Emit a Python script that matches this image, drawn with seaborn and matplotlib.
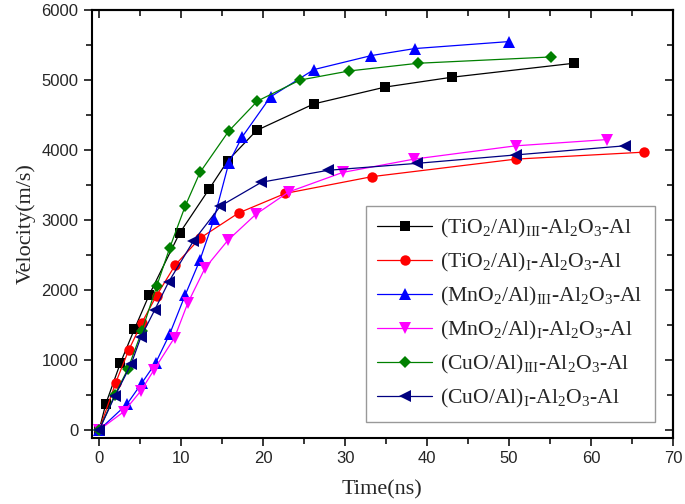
import numpy as np
import pandas as pd
import matplotlib
matplotlib.use('Agg')
import matplotlib.pyplot as plt
import seaborn as sns
from matplotlib.ticker import MultipleLocator

# values (time in ns, velocity in m/s)
tio2_iii_t = [0, 0.8, 2.6, 4.3, 6.1, 9.8, 13.4, 15.7, 19.2, 26.2, 34.9, 43.0, 57.9]
tio2_iii_v = [0, 370, 960, 1440, 1930, 2810, 3440, 3850, 4280, 4660, 4900, 5040, 5240]

tio2_i_t = [0, 2.0, 3.6, 5.2, 7.0, 9.3, 12.3, 17.0, 22.7, 33.3, 50.8, 66.5]
tio2_i_v = [0, 670, 1140, 1530, 1920, 2360, 2740, 3100, 3380, 3620, 3870, 3970]

mno2_iii_t = [0, 3.4, 5.2, 6.9, 8.6, 10.5, 12.3, 14.0, 15.8, 17.4, 20.9, 26.2, 33.2, 38.5, 50.0]
mno2_iii_v = [0, 370, 670, 960, 1370, 1930, 2430, 3010, 3810, 4180, 4760, 5150, 5350, 5450, 5550]

mno2_i_t = [0, 3.0, 5.1, 6.7, 9.2, 10.8, 12.9, 15.7, 19.1, 23.1, 29.7, 38.4, 50.8, 62.0]
mno2_i_v = [0, 260, 560, 860, 1320, 1810, 2310, 2710, 3080, 3400, 3680, 3870, 4060, 4150]

cuo_iii_t = [0, 1.9, 3.5, 5.2, 7.0, 8.6, 10.5, 12.3, 15.8, 19.3, 24.5, 30.5, 38.9, 55.1]
cuo_iii_v = [0, 500, 870, 1410, 2050, 2600, 3200, 3680, 4270, 4700, 5000, 5130, 5240, 5330]

cuo_i_t = [0, 1.9, 3.9, 5.1, 6.8, 8.5, 11.5, 14.8, 19.8, 27.9, 38.8, 50.8, 64.1]
cuo_i_v = [0, 480, 940, 1330, 1720, 2120, 2700, 3200, 3540, 3710, 3810, 3930, 4060]

labels = [r'(TiO$_2$/Al)$_{\mathrm{III}}$-Al$_2$O$_3$-Al',
          r'(TiO$_2$/Al)$_{\mathrm{I}}$-Al$_2$O$_3$-Al',
          r'(MnO$_2$/Al)$_{\mathrm{III}}$-Al$_2$O$_3$-Al',
          r'(MnO$_2$/Al)$_{\mathrm{I}}$-Al$_2$O$_3$-Al',
          r'(CuO/Al)$_{\mathrm{III}}$-Al$_2$O$_3$-Al',
          r'(CuO/Al)$_{\mathrm{I}}$-Al$_2$O$_3$-Al']

series = [(tio2_iii_t, tio2_iii_v), (tio2_i_t, tio2_i_v),
          (mno2_iii_t, mno2_iii_v), (mno2_i_t, mno2_i_v),
          (cuo_iii_t, cuo_iii_v), (cuo_i_t, cuo_i_v)]
colors = ['black', '#ff0000', '#0000ff', '#ff00ff', '#008000', '#000080']
markers = ['s', 'o', '^', 'v', 'D', '<']
msizes = [6.5, 7.5, 8, 8, 6.5, 8]

sns.set_style('ticks')
plt.rcParams['mathtext.fontset'] = 'custom'
plt.rcParams['mathtext.rm'] = 'Liberation Serif'
plt.rcParams['mathtext.it'] = 'Liberation Serif:italic'
plt.rcParams['font.family'] = ['Liberation Sans', 'DejaVu Sans']

fig = plt.figure(figsize=(6.85, 5.04), dpi=100)
ax = fig.add_axes([0.134, 0.131, 0.8485, 0.849])

for (t, v), lab, c, m, ms in zip(series, labels, colors, markers, msizes):
    sns.lineplot(x=t, y=v, ax=ax, color=c, marker=m, markersize=ms,
                 markeredgewidth=0, linewidth=0.9, label=lab, sort=False)

ax.set_xlim(-0.9, 70)
ax.set_ylim(-115, 6000)
ax.xaxis.set_major_locator(MultipleLocator(10))
ax.xaxis.set_minor_locator(MultipleLocator(5))
ax.yaxis.set_major_locator(MultipleLocator(1000))
ax.yaxis.set_minor_locator(MultipleLocator(500))

for s in ax.spines.values():
    s.set_linewidth(1.5)
    s.set_color('black')

ax.tick_params(which='both', direction='out', width=1.3, labelsize=12,
               top=False, right=False)
ax.tick_params(which='major', length=6)
ax.tick_params(which='minor', length=4)
for lbl in ax.get_xticklabels() + ax.get_yticklabels():
    lbl.set_fontfamily('Liberation Sans')

# mirrored inward ticks on top and right, no labels
top = ax.secondary_xaxis('top')
right = ax.secondary_yaxis('right')
for sec in (top, right):
    sec.tick_params(which='both', direction='in', width=1.3)
    sec.tick_params(which='major', length=6)
    sec.tick_params(which='minor', length=4)
    sec.spines[:].set_linewidth(1.5)
top.xaxis.set_major_locator(MultipleLocator(10))
top.xaxis.set_minor_locator(MultipleLocator(5))
top.set_xticklabels([])
right.yaxis.set_major_locator(MultipleLocator(1000))
right.yaxis.set_minor_locator(MultipleLocator(500))
right.set_yticklabels([])

ax.set_xlabel('Time(ns)', fontsize=16, family='Liberation Serif', labelpad=10)
ax.set_ylabel('Velocity(m/s)', fontsize=16, family='Liberation Serif', labelpad=4)

leg = ax.legend(loc='lower left', bbox_to_anchor=(0.471, 0.038), borderaxespad=0,
                prop={'family': 'Liberation Serif', 'size': 15.6}, frameon=True,
                fancybox=False, edgecolor='#808080', handlelength=2.5,
                labelspacing=0.5, borderpad=0.55, handletextpad=0.4)
leg.get_frame().set_linewidth(1.0)

fig.savefig('out.png', dpi=100)
